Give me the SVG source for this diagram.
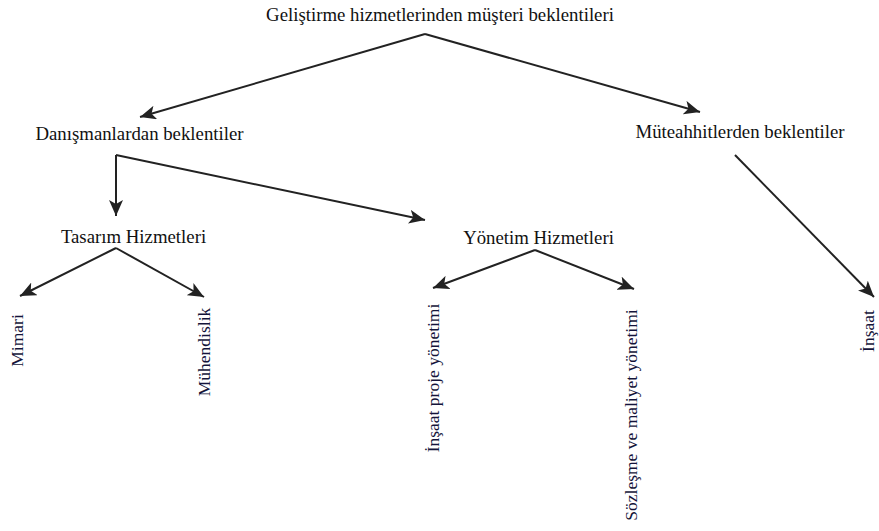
<svg xmlns="http://www.w3.org/2000/svg" width="879" height="531" viewBox="0 0 879 531">
  <defs>
    <marker id="arrow" markerUnits="userSpaceOnUse" markerWidth="18" markerHeight="14" refX="16" refY="7" orient="auto">
      <path d="M0,0 L16,7 L0,14 L4,7 Z" fill="#222"/>
    </marker>
    <style>
      .edge { stroke: #222; stroke-width: 2; fill: none; marker-end: url(#arrow); }
    </style>
  </defs>
  <rect width="879" height="531" fill="#fff"/>

  <g id="connectors">
    <line class="edge" x1="425" y1="34" x2="140" y2="117"/>
    <line class="edge" x1="425" y1="34" x2="700" y2="112"/>
    <line class="edge" x1="116" y1="155" x2="116" y2="216"/>
    <line class="edge" x1="116" y1="155" x2="425" y2="220"/>
    <line class="edge" x1="116" y1="248" x2="20" y2="296"/>
    <line class="edge" x1="116" y1="248" x2="204" y2="297"/>
    <line class="edge" x1="535" y1="250" x2="433" y2="288"/>
    <line class="edge" x1="535" y1="250" x2="634" y2="289"/>
    <line class="edge" x1="735" y1="155" x2="874" y2="297"/>
  </g>

  <g font-family="'Times New Roman', Times, 'Liberation Serif', serif" fill="#111" text-anchor="middle">
    <g font-size="18.8">
      <g id="root"><text x="440" y="21">Geliştirme hizmetlerinden müşteri beklentileri</text></g>
      <g id="danismanlar"><text x="139.5" y="140">Danışmanlardan beklentiler</text></g>
      <g id="muteahhitler"><text x="740" y="138">Müteahhitlerden beklentiler</text></g>
      <g id="tasarim"><text x="133.5" y="243">Tasarım Hizmetleri</text></g>
      <g id="yonetim"><text x="538.5" y="244">Yönetim Hizmetleri</text></g>
    </g>
    <g fill="#14143a" font-size="17.5">
      <g id="mimari"><text transform="translate(23,340.5) rotate(-90)">Mimari</text></g>
      <g id="muhendislik"><text transform="translate(210,352) rotate(-90)">Mühendislik</text></g>
      <g id="insaat-proje"><text transform="translate(439,378) rotate(-90)">İnşaat proje yönetimi</text></g>
      <g id="sozlesme"><text transform="translate(637,415) rotate(-90)">Sözleşme ve maliyet yönetimi</text></g>
      <g id="insaat"><text transform="translate(874,331) rotate(-90)">İnşaat</text></g>
    </g>
  </g>
</svg>
